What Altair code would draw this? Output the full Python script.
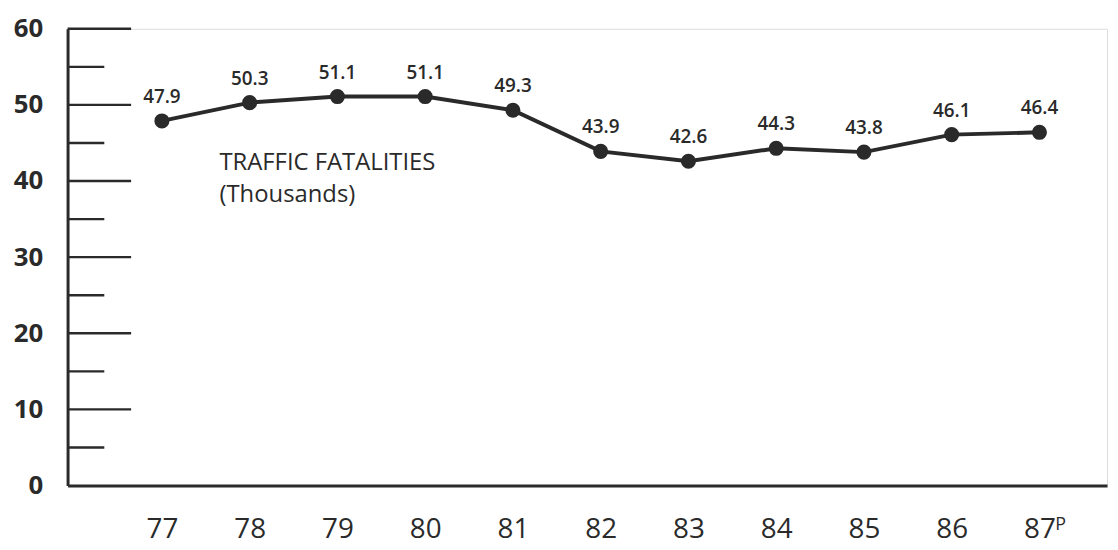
import altair as alt
import pandas as pd

years = [77, 78, 79, 80, 81, 82, 83, 84, 85, 86, 87]
fatalities = [47.9, 50.3, 51.1, 51.1, 49.3, 43.9, 42.6, 44.3, 43.8, 46.1, 46.4]
value_labels = ["47.9", "50.3", "51.1", "51.1", "49.3", "43.9", "42.6", "44.3", "43.8", "46.1", "46.4"]
major_ticks = [10, 20, 30, 40, 50, 60]
minor_ticks = [5, 15, 25, 35, 45, 55]
y_labels = [0, 10, 20, 30, 40, 50, 60]
title_lines = ["TRAFFIC FATALITIES", "(Thousands)"]
prelim_year = 87
prelim_mark = "P"

INK = "#2a2a2a"
FONT = "Open Sans"

df = pd.DataFrame({"year": years, "val": fatalities, "lab": value_labels})
ticks_major = pd.DataFrame({"v": major_ticks})
ticks_minor = pd.DataFrame({"v": minor_ticks})

xscale = alt.Scale(domain=[75.925, 87.77], nice=False, zero=False)
yscale = alt.Scale(domain=[0, 60], nice=False)

xenc = alt.X("year:Q", scale=xscale,
             axis=alt.Axis(values=years, title=None, grid=False, ticks=False,
                           domainColor=INK, domainWidth=3,
                           labelFont=FONT, labelFontSize=28, labelColor=INK,
                           labelPadding=30, labelBaseline="top",
                           labelExpr="datum.value"))
yenc = alt.Y("val:Q", scale=yscale,
             axis=alt.Axis(values=y_labels, title=None, grid=False, ticks=False,
                           domainColor=INK, domainWidth=3,
                           labelFont=FONT, labelFontSize=26, labelFontWeight="bold",
                           labelColor=INK, labelPadding=25))

line = alt.Chart(df).mark_line(color=INK, strokeWidth=4).encode(x=xenc, y=yenc)
pts = alt.Chart(df).mark_circle(color=INK, opacity=1, size=230).encode(
    x=alt.X("year:Q", scale=xscale), y=alt.Y("val:Q", scale=yscale))
labs = alt.Chart(df).mark_text(font=FONT, fontSize=19, fontWeight=600, color=INK,
                               dy=-24, baseline="middle").encode(
    x=alt.X("year:Q", scale=xscale), y=alt.Y("val:Q", scale=yscale), text="lab:N")

maj = alt.Chart(ticks_major).mark_rule(color=INK, strokeWidth=2.4).encode(
    y=alt.Y("v:Q", scale=yscale), x=alt.value(0), x2=alt.value(64))
mino = alt.Chart(ticks_minor).mark_rule(color=INK, strokeWidth=2.4).encode(
    y=alt.Y("v:Q", scale=yscale), x=alt.value(0), x2=alt.value(37))

title1 = alt.Chart(pd.DataFrame({"t": [title_lines[0]]})).mark_text(
    font=FONT, fontSize=24, color=INK, align="left", baseline="middle").encode(
    x=alt.value(153), y=alt.value(135), text="t:N")
title2 = alt.Chart(pd.DataFrame({"t": [title_lines[1]]})).mark_text(
    font=FONT, fontSize=24, color=INK, align="left", baseline="middle").encode(
    x=alt.value(153), y=alt.value(167), text="t:N")

p_txt = alt.Chart(pd.DataFrame({"year": [prelim_year], "t": [prelim_mark]})).mark_text(
    font=FONT, fontSize=18, color=INK, align="left", baseline="top", dx=16).encode(
    x=alt.X("year:Q", scale=xscale), y=alt.value(491), text="t:N")

chart = alt.layer(maj, mino, line, pts, labs, title1, title2, p_txt).properties(
    width=1047, height=460,
    autosize=alt.AutoSizeParams(type="none"),
    padding={"left": 60, "top": 19, "right": 3, "bottom": 62},
).configure_view(stroke=None).configure(background="white")

chart.save("out.html", embed_options={"renderer": "svg", "actions": False})
